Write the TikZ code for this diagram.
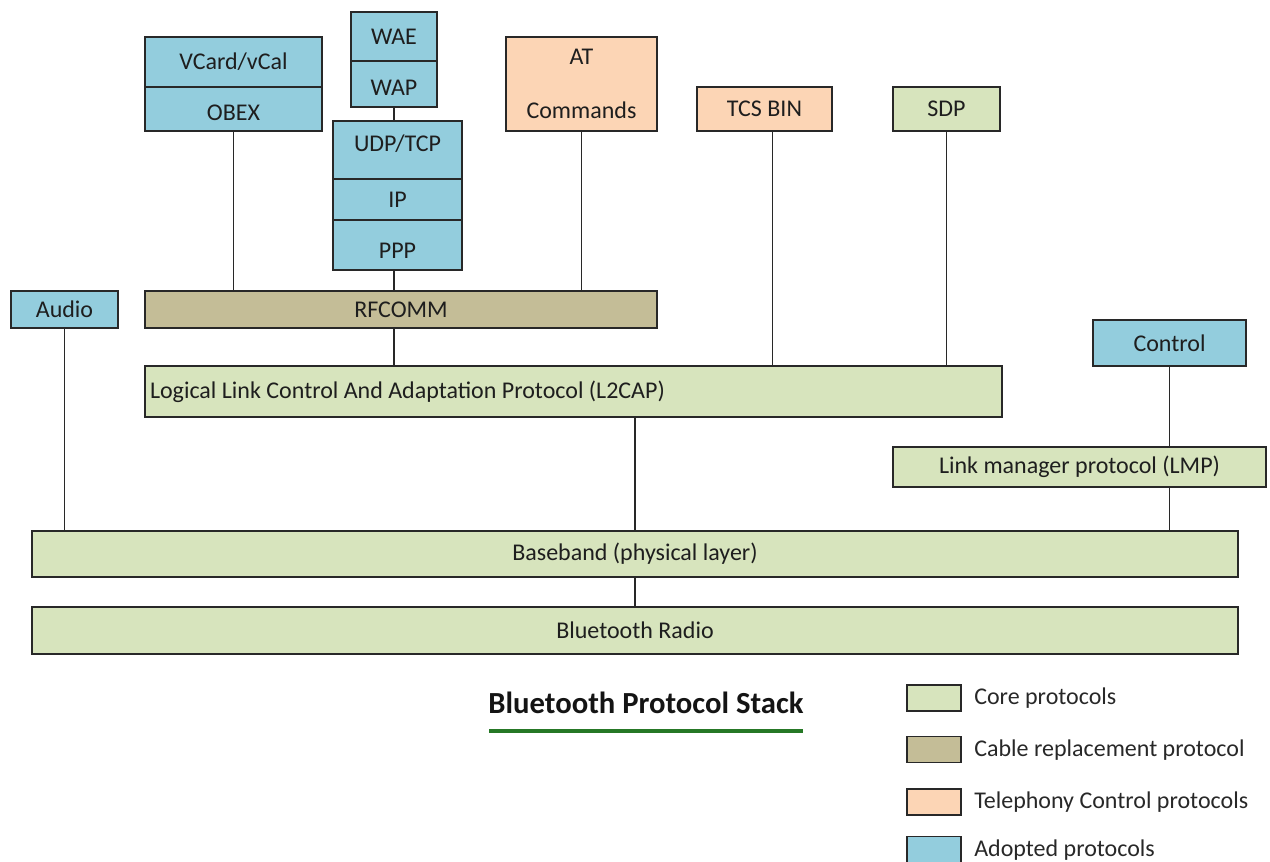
\documentclass[tikz,border=0pt]{standalone}
\usepackage{tikz}
\usepackage{fontspec}
\setmainfont{Carlito}

\begin{document}
\begin{tikzpicture}[x=0.75pt,y=0.75pt,yscale=-1,xscale=1,
  blk/.style={draw={rgb, 255:red, 40; green, 40; blue, 40 }, line width=1.2pt, inner sep=2pt,
    text={rgb, 255:red, 30; green, 30; blue, 30 }, font=\fontsize{18pt}{21pt}\selectfont},
  core/.style={blk, fill={rgb, 255:red, 215; green, 228; blue, 189 }},
  cable/.style={blk, fill={rgb, 255:red, 196; green, 189; blue, 151 }},
  tel/.style={blk, fill={rgb, 255:red, 252; green, 213; blue, 181 }},
  adopted/.style={blk, fill={rgb, 255:red, 147; green, 205; blue, 221 }},
  lnk/.style={draw={rgb, 255:red, 40; green, 40; blue, 40 }, line width=1.2pt},
  legtext/.style={anchor=west, inner sep=0pt, text={rgb, 255:red, 40; green, 40; blue, 40 }, font=\fontsize{18pt}{21pt}\selectfont}]
\useasboundingbox (0,0) rectangle (1270,862);

%Shape: Rectangle (upper stacks)
\node [adopted, minimum width=132.75pt, minimum height=37.5pt] (vcard) at (233.5,62) {VCard/vCal};
\node [adopted, minimum width=132.75pt, minimum height=33pt, text height=18pt] (obex) at (233.5,109) {OBEX};
\node [adopted, minimum width=64.5pt, minimum height=36.75pt] (wae) at (394,36.5) {WAE};
\node [adopted, minimum width=64.5pt, minimum height=34.5pt, text height=18pt] (wap) at (394,84) {WAP};
\node [adopted, minimum width=96.75pt, minimum height=43.5pt, text depth=10pt] (udp) at (397.5,150) {UDP/TCP};
\node [adopted, minimum width=96.75pt, minimum height=30.75pt] (ip) at (397.5,199.5) {IP};
\node [adopted, minimum width=96.75pt, minimum height=37.5pt, text height=20pt] (ppp) at (397.5,245) {PPP};
\node [tel, minimum width=113.25pt, minimum height=70.5pt, align=center] (at) at (581.5,84) {AT\\[19pt]Commands};
\node [tel, minimum width=101.25pt, minimum height=33pt] (tcs) at (764.5,109) {TCS BIN};
\node [core, minimum width=80.25pt, minimum height=33pt] (sdp) at (946.5,109) {SDP};

%Shape: Rectangle (middle layers)
\node [adopted, minimum width=80.25pt, minimum height=27.75pt] (audio) at (64.5,309.5) {Audio};
\node [cable, minimum width=384pt, minimum height=27.75pt] (rfcomm) at (401,309.5) {RFCOMM};
\node [core, minimum height=38.25pt, inner xsep=3.75pt, text width=635.25pt, align=flush left] (l2cap) at (573.5,391.5) {Logical Link Control And Adaptation Protocol (L2CAP)};
\node [adopted, minimum width=114.75pt, minimum height=34.5pt] (control) at (1169.5,343) {Control};
\node [core, minimum width=279.75pt, minimum height=30pt] (lmp) at (1079.5,467) {Link manager protocol (LMP)};

%Shape: Rectangle (lower layers)
\node [core, minimum width=904.5pt, minimum height=34.5pt] (baseband) at (635,554) {Baseband (physical layer)};
\node [core, minimum width=904.5pt, minimum height=35.25pt] (radio) at (635,630.5) {Bluetooth Radio};

%Straight Lines
\draw [lnk] (obex.south) -- (obex.south |- rfcomm.north);
\draw [lnk] (wap.south) -- (wap.south |- udp.north);
\draw [lnk] (wap.south |- ppp.south) -- (wap.south |- rfcomm.north);
\draw [lnk] (at.south) -- (at.south |- rfcomm.north);
\draw [lnk] (wap.south |- rfcomm.south) -- (wap.south |- l2cap.north);
\draw [lnk] ([xshift=6pt]tcs.south) -- ([xshift=6pt]tcs.south |- l2cap.north);
\draw [lnk] (sdp.south) -- (sdp.south |- l2cap.north);
\draw [lnk] (audio.south) -- (audio.south |- baseband.north);
\draw [lnk] (baseband.north |- l2cap.south) -- (baseband.north);
\draw [lnk] (control.south) -- (control.south |- lmp.north);
\draw [lnk] (control.south |- lmp.south) -- (control.south |- baseband.north);
\draw [lnk] (baseband.south) -- (radio.north);

% Text Node
\node [inner sep=1pt, font=\fontsize{23pt}{27pt}\selectfont\bfseries, text={rgb, 255:red, 20; green, 20; blue, 20 }] (title) at (646,703) {Bluetooth Protocol Stack};
\coordinate (ulstart) at (489,731);
\coordinate (ulend) at (803,731);
\draw [draw={rgb, 255:red, 38; green, 120; blue, 38 }, line width=3pt] (ulstart) -- (ulend);

%Legend
\node [core, minimum width=40.5pt, minimum height=19.5pt] (keycore) at (934,698) {};
\node [cable, minimum width=40.5pt, minimum height=19.5pt] (keycable) at (934,749.5) {};
\node [tel, minimum width=40.5pt, minimum height=19.5pt] (keytel) at (934,802) {};
\node [adopted, minimum width=40.5pt, minimum height=19.5pt] (keyadopted) at (934,849.5) {};
\node [legtext] (txtcore) at (974,698) {Core protocols};
\node [legtext] (txtcable) at (974,750) {Cable replacement protocol};
\node [legtext] (txttel) at (974,802) {Telephony Control protocols};
\node [legtext] (txtadopted) at (974,850) {Adopted protocols};

\end{tikzpicture}
\end{document}
